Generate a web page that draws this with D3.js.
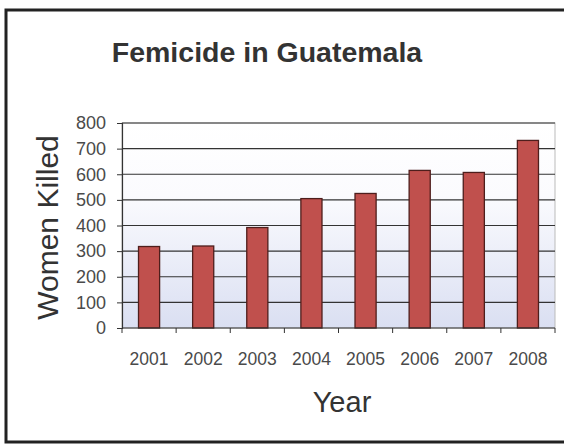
<!DOCTYPE html>
<html>
<head>
<meta charset="utf-8">
<script src="https://cdn.jsdelivr.net/npm/d3@7"></script>
<style>
  body { margin: 0; background: #fff; }
  svg { display: block; font-family: Arial, "Liberation Sans", sans-serif; }
</style>
</head>
<body>
<div id="chart"></div>
<script>
const years = ["2001", "2002", "2003", "2004", "2005", "2006", "2007", "2008"];
const killed = [318, 320, 392, 505, 525, 615, 607, 732];
const yTicks = [0, 100, 200, 300, 400, 500, 600, 700, 800];

const width = 564, height = 447;
const margin = { top: 123, right: 9, bottom: 119, left: 122 };

const svg = d3.select("#chart")
  .append("svg")
  .attr("width", width)
  .attr("height", height);

// outer frame
svg.append("rect")
  .attr("x", 6).attr("y", 10)
  .attr("width", 570).attr("height", 432)
  .attr("fill", "#fff")
  .attr("stroke", "#222")
  .attr("stroke-width", 3);

const grad = svg.append("defs").append("linearGradient")
  .attr("id", "plotbg")
  .attr("x1", 0).attr("y1", 0).attr("x2", 0).attr("y2", 1);
grad.append("stop").attr("offset", "0%").attr("stop-color", "#ffffff");
grad.append("stop").attr("offset", "35%").attr("stop-color", "#fbfbfe");
grad.append("stop").attr("offset", "100%").attr("stop-color", "#dadff2");

const x = d3.scaleBand()
  .domain(years)
  .range([margin.left, width - margin.right])
  .paddingInner(0.61)
  .paddingOuter(0.305);

const y = d3.scaleLinear()
  .domain([0, 800])
  .range([height - margin.bottom, margin.top]);

// plot background
svg.append("rect")
  .attr("x", margin.left)
  .attr("y", y(800))
  .attr("width", width - margin.right - margin.left)
  .attr("height", y(0) - y(800))
  .attr("fill", "url(#plotbg)")
  .attr("stroke", "#bbb");

// gridlines
svg.append("g")
  .selectAll("line")
  .data(yTicks.slice(1))
  .join("line")
  .attr("x1", margin.left)
  .attr("x2", width - margin.right)
  .attr("y1", d => y(d))
  .attr("y2", d => y(d))
  .attr("stroke", "#333")
  .attr("stroke-width", 1.2);

// bars
svg.append("g")
  .selectAll("rect")
  .data(years)
  .join("rect")
  .attr("x", d => x(d))
  .attr("y", (d, i) => y(killed[i]))
  .attr("width", x.bandwidth())
  .attr("height", (d, i) => y(0) - y(killed[i]))
  .attr("fill", "#c0504d")
  .attr("stroke", "#4e1e1c")
  .attr("stroke-width", 1.3);

// y axis
const yAxis = svg.append("g")
  .attr("transform", `translate(${margin.left},0)`)
  .call(d3.axisLeft(y).tickValues(yTicks).tickSize(5).tickPadding(11));
yAxis.select(".domain").attr("stroke", "#333").attr("stroke-width", 1.2);
yAxis.selectAll(".tick line").attr("stroke", "#333");
yAxis.selectAll("text")
  .attr("font-size", 18)
  .attr("fill", "#4a4a4a")
  .attr("font-family", "Arial, 'Liberation Sans', sans-serif");

// x axis with ticks between categories
const xAxis = svg.append("g")
  .attr("transform", `translate(0,${y(0)})`);
xAxis.append("line")
  .attr("x1", margin.left).attr("x2", width - margin.right)
  .attr("stroke", "#333").attr("stroke-width", 1.2);
const step = x.step();
xAxis.selectAll(".sep")
  .data(d3.range(years.length + 1))
  .join("line")
  .attr("class", "sep")
  .attr("x1", i => margin.left + i * step)
  .attr("x2", i => margin.left + i * step)
  .attr("y1", 0).attr("y2", 5)
  .attr("stroke", "#333");
xAxis.selectAll("text")
  .data(years)
  .join("text")
  .attr("x", d => x(d) + x.bandwidth() / 2)
  .attr("y", 37)
  .attr("text-anchor", "middle")
  .attr("font-size", 17.5)
  .attr("fill", "#4a4a4a")
  .text(d => d);

// titles
svg.append("text")
  .attr("x", 267).attr("y", 62)
  .attr("text-anchor", "middle")
  .attr("font-size", 28.5)
  .attr("font-weight", "bold")
  .attr("fill", "#333")
  .text("Femicide in Guatemala");

svg.append("text")
  .attr("x", 342).attr("y", 412)
  .attr("text-anchor", "middle")
  .attr("font-size", 29)
  .attr("fill", "#333")
  .text("Year");

svg.append("text")
  .attr("transform", `translate(58,${(y(0) + y(800)) / 2 + 2}) rotate(-90)`)
  .attr("text-anchor", "middle")
  .attr("font-size", 30)
  .attr("fill", "#333")
  .text("Women Killed");
</script>
</body>
</html>
